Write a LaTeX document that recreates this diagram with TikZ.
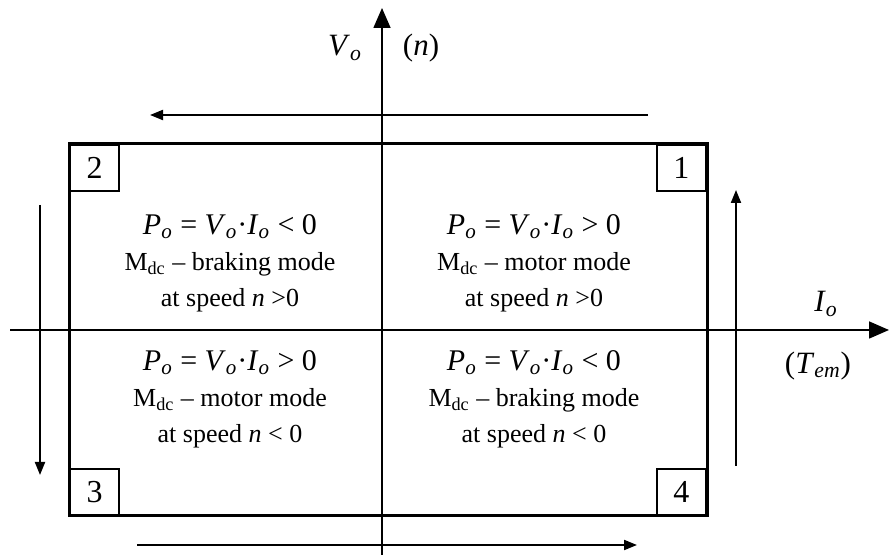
\documentclass[tikz,border=0pt]{standalone}
\usepackage{fontspec}
\setmainfont{Liberation Serif}
\usetikzlibrary{arrows.meta,positioning}

\newcommand{\sv}[2]{\textit{#1}\textsubscript{\textit{#2}}}

\begin{document}
\begin{tikzpicture}[x=0.5pt,y=-0.5pt,
		ax/.style={-{Triangle[length=10pt,width=8.5pt]},line width=0.8pt},
		a/.style={-{Triangle[length=6.5pt,width=5pt]},line width=1pt},
		q/.style={draw,line width=1.2pt,minimum width=24.5pt,minimum height=23pt,inner sep=0pt,
				font=\fontsize{16}{18}\selectfont},
		t/.style={align=center,font=\fontsize{13}{18}\selectfont},
		l/.style={font=\fontsize{15.5}{18}\selectfont}
		]
		\useasboundingbox (0,0) rectangle (889,555);
		% axes
		\coordinate (xs) at (10,330);
		\coordinate (xe) at (889,330);
		\coordinate (ys) at (382,555);
		\coordinate (ye) at (382,8);
		\draw[ax] (xs) -- (xe);
		\draw[ax] (ys) -- (ye);
		% frame and quadrant numbers
		\coordinate (nw) at (69,144);
		\coordinate (se) at (707,516);
		\draw[line width=1.5pt] (nw) rectangle (se);
		\node[q,anchor=north west] (q2) at (nw) {2};
		\node[q,anchor=north east] (q1) at (se |- nw) {1};
		\node[q,anchor=south west] (q3) at (nw |- se) {3};
		\node[q,anchor=south east] (q4) at (se) {4};
		% axis labels
		\node[l] (vo) at (345,48) {\sv{V}{o}};
		\node[l] (nn) at (421,48) {(\textit{n})};
		\node[l] (io) at (826,304) {\sv{I}{o}};
		\node[l] (te) at (818,366) {(\sv{T}{em})};
		% quadrant texts
		\node[t] (m1) at (534,263) {{\fontsize{15}{18}\selectfont\sv{P}{o} = \sv{V}{o}·\sv{I}{o} > 0}\\M\textsubscript{dc} – motor mode\\at speed \textit{n} >0};
		\node[t] (m2) at (230,263) {{\fontsize{15}{18}\selectfont\sv{P}{o} = \sv{V}{o}·\sv{I}{o} < 0}\\M\textsubscript{dc} – braking mode\\at speed \textit{n} >0};
		\node[t] (m3) at (230,399) {{\fontsize{15}{18}\selectfont\sv{P}{o} = \sv{V}{o}·\sv{I}{o} > 0}\\M\textsubscript{dc} – motor mode\\at speed \textit{n} < 0};
		\node[t] (m4) at (534,399) {{\fontsize{15}{18}\selectfont\sv{P}{o} = \sv{V}{o}·\sv{I}{o} < 0}\\M\textsubscript{dc} – braking mode\\at speed \textit{n} < 0};
		% direction arrows
		\coordinate (ta) at (648,115);
		\coordinate (tb) at (150,115);
		\coordinate (ba) at (137,545);
		\coordinate (bb) at (637,545);
		\coordinate (la) at (40,205);
		\coordinate (lb) at (40,475);
		\coordinate (ra) at (736,466);
		\coordinate (rb) at (736,190);
		\draw[a] (ta) -- (tb);
		\draw[a] (ba) -- (bb);
		\draw[a] (la) -- (lb);
		\draw[a] (ra) -- (rb);
	\end{tikzpicture}
\end{document}
